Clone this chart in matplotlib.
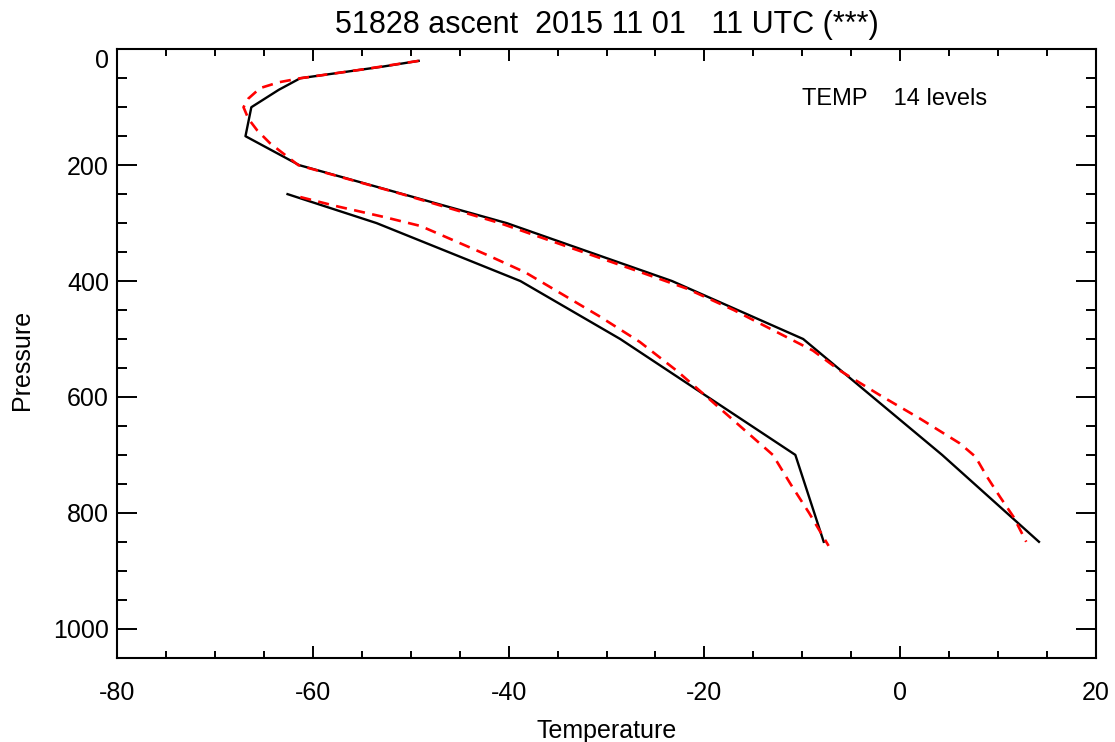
import matplotlib.pyplot as plt
from matplotlib.ticker import MultipleLocator

plt.rcParams['font.family'] = ['Liberation Sans', 'DejaVu Sans']

# observed sounding (black)
p_temp = [20, 30, 50, 70, 100, 150, 200, 250, 300, 400, 500, 700, 850]
t_temp = [-49.2, -52.9, -61.3, -63.5, -66.3, -66.9, -61.4, -50.8, -40.2, -23.3, -9.9, 4.3, 14.2]
p_dew = [250, 300, 400, 500, 700, 850]
t_dew = [-62.6, -53.5, -38.8, -28.6, -10.7, -7.8]

# model profile (red dashed)
p_temp_m = [20, 35, 50, 57, 67, 85, 100, 120, 140, 162, 200, 250, 300, 340, 380, 413,
            450, 488, 520, 555, 597, 637, 680, 703, 738, 772, 807, 850]
t_temp_m = [-49.2, -55.0, -61.3, -63.5, -65.4, -66.6, -67.1, -66.6, -65.7, -64.4, -61.5,
            -50.9, -40.9, -34.1, -27.3, -21.8, -17.0, -12.6, -8.9, -6.1, -2.05, 2.0, 6.1,
            7.7, 8.9, 10.2, 11.6, 12.9]
p_dew_m = [255, 270, 290, 305, 330, 355, 385, 420, 460, 505, 555, 605, 660, 700, 750, 800, 857]
t_dew_m = [-61.3, -57.8, -52.6, -49.0, -45.6, -42.2, -38.3, -34.8, -30.8, -26.6, -22.8,
           -19.4, -15.7, -13.0, -11.2, -9.3, -7.3]

x_ticks = [-80, -60, -40, -20, 0, 20]
y_ticks = [0, 200, 400, 600, 800, 1000]

title = "51828 ascent  2015 11 01   11 UTC (***)"
info = "TEMP    14 levels"

fig = plt.figure(figsize=(11.15, 7.42), dpi=100)
ax = fig.add_axes([0.1052, 0.1136, 0.8775, 0.82])

ax.plot(t_temp, p_temp, color="black", lw=1.7)
ax.plot(t_dew, p_dew, color="black", lw=1.7)
ax.plot(t_temp_m, p_temp_m, color="red", lw=1.9, dashes=(4.2, 2.8))
ax.plot(t_dew_m, p_dew_m, color="red", lw=1.9, dashes=(4.2, 2.8))

ax.set_xlim(-80, 20)
ax.set_ylim(1050, 0)
ax.set_xticks(x_ticks)
ax.set_yticks(y_ticks)
ax.set_xticklabels([str(v) for v in x_ticks])
ax.set_yticklabels([str(v) for v in y_ticks])
ax.xaxis.set_minor_locator(MultipleLocator(5))
ax.yaxis.set_minor_locator(MultipleLocator(50))

ax.tick_params(axis="both", which="both", direction="in", top=True, right=True,
               width=1.4, labelsize=18)
ax.tick_params(axis="x", which="major", length=8.6, pad=17)
ax.tick_params(axis="x", which="minor", length=5)
ax.tick_params(axis="y", which="major", length=14.4, pad=6)
ax.tick_params(axis="y", which="minor", length=7.2)
for s in ax.spines.values():
    s.set_linewidth(1.5)

ax.yaxis.get_major_ticks()[0].label1.set_va("top")

ax.set_xlabel("Temperature", fontsize=18)
ax.set_ylabel("Pressure", fontsize=18)
ax.xaxis.set_label_coords(0.5, -0.1)
ax.yaxis.set_label_coords(-0.085, 0.49)

ax.set_title(title, fontsize=22, pad=12)
ax.text(0.70, 0.918, info, transform=ax.transAxes, fontsize=17, va="center")

fig.savefig("out.png", dpi=100)
